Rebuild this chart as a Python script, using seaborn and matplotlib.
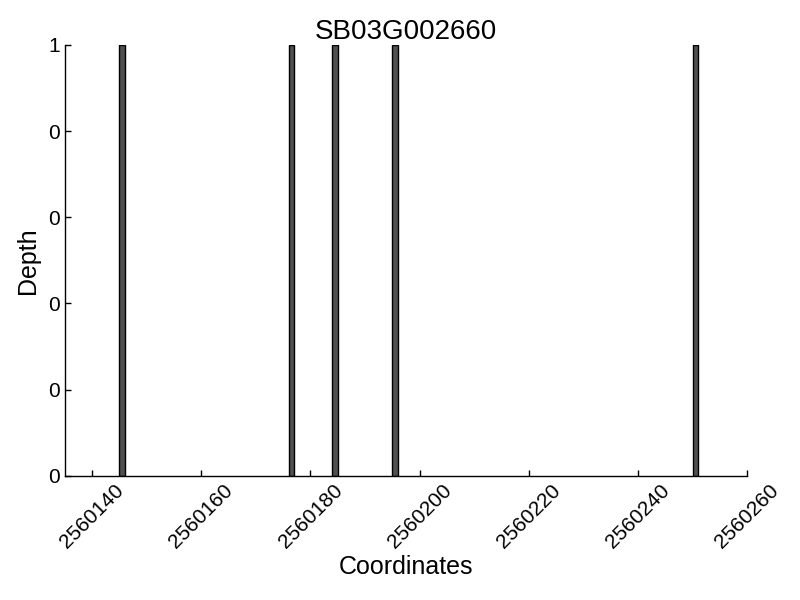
import matplotlib
matplotlib.use("Agg")
import matplotlib.pyplot as plt
import seaborn as sns
import numpy as np
import pandas as pd
from matplotlib.ticker import FormatStrFormatter

title = "SB03G002660"
positions = [2560145.5, 2560176.5, 2560184.5, 2560195.5, 2560250.5]
depths = [1, 1, 1, 1, 1]
x_start, x_end = 2560135, 2560260

df = pd.DataFrame({"pos": positions, "depth": depths})

sns.set_style("ticks")
plt.rcParams['font.family'] = ['Liberation Sans', 'DejaVu Sans']
plt.rcParams['text.color'] = 'black'
plt.rcParams['axes.labelcolor'] = 'black'
plt.rcParams['xtick.color'] = 'black'
plt.rcParams['ytick.color'] = 'black'

fig = plt.figure(figsize=(8, 6), dpi=100)
ax = fig.add_axes([0.081, 0.207, 0.853, 0.718])

# native spacing min is 8 units, bars are 1 unit wide
min_gap = np.min(np.diff(sorted(positions)))
sns.barplot(data=df, x="pos", y="depth", native_scale=True, width=1.0 / min_gap,
            color="#505050", saturation=1, edgecolor="black", linewidth=1,
            errorbar=None, ax=ax)

ax.set_xlim(x_start, x_end)
ax.set_ylim(0, 1)
ax.set_xticks(np.arange(2560140, 2560261, 20))
ax.set_yticks(np.arange(0, 1.01, 0.2))
ax.yaxis.set_major_formatter(FormatStrFormatter('%d'))
ax.xaxis.set_major_formatter(FormatStrFormatter('%d'))
ax.tick_params(direction='in', length=4, width=1, labelsize=15, colors='black')
for lbl in ax.get_xticklabels():
    lbl.set_rotation(45)
sns.despine(ax=ax)
for s in ["left", "bottom"]:
    ax.spines[s].set_linewidth(1)
    ax.spines[s].set_color("black")

ax.set_title(title, fontsize=20, pad=4, color='black')
ax.set_xlabel("Coordinates", fontsize=18, color='black', labelpad=2)
ax.set_ylabel("Depth", fontsize=18, color='black', labelpad=6)

fig.savefig("out.png", dpi=100)
